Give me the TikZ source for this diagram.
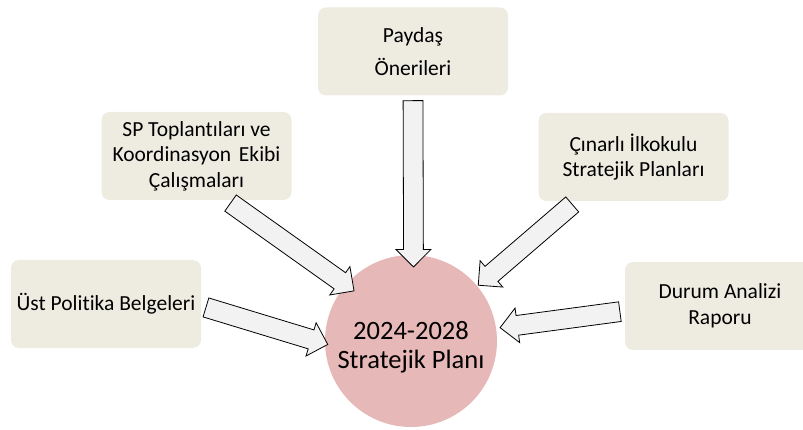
\documentclass[tikz,border=0pt]{standalone}
\usepackage{fontspec}
\setmainfont{Carlito}[Ligatures=NoCommon]
\usepackage{xcolor}
\usetikzlibrary{calc,shapes.arrows}

\definecolor{boxtan}{HTML}{EEECE1}
\definecolor{planpink}{HTML}{E6B8B7}
\definecolor{arrowgray}{HTML}{F2F2F2}

\tikzset{
  inputbox/.style={fill=boxtan, rounded corners=8pt, minimum width=190pt, minimum height=88pt,
    align=center, font=\fontsize{21.5}{25.5}\selectfont},
  fatarrow/.style={single arrow, draw=black, fill=arrowgray, line width=0.8pt,
    inner xsep=0pt, inner ysep=9.5pt, single arrow head extend=7.5pt, single arrow tip angle=90},
}

\newcommand{\blockarrow}[2]{%
  \path let \p1=($(#2)-(#1)$), \n1={atan2(\y1,\x1)}, \n2={veclen(\x1,\y1)} in
    node[fatarrow, minimum height=\n2, rotate=\n1] at ($(#1)!0.5!(#2)$) {};}

\begin{document}
\begin{tikzpicture}[x=1pt,y=-1pt]
    \useasboundingbox (0,0) rectangle (803,430);

    % the plan in the middle
    \node[circle, fill=planpink, minimum size=172pt, inner sep=0pt] (plan) at (411,341) {};
    \node[align=center, font=\fontsize{26.5}{28.5}\selectfont] (planLabel) at ($(plan.center)+(0,6)$)
      {2024-2028\\Stratejik Planı};

    % inputs
    \node[inputbox] (pay) at (413,51.5) {Paydaş\\[8pt]Önerileri};
    \node[inputbox] (sp) at (196.5,156) {SP Toplantıları ve\\Koordinasyon\hspace{3pt} Ekibi\\Çalışmaları};
    \node[inputbox] (cin) at (633.5,157) {Çınarlı İlkokulu\\Stratejik Planları};
    \node[inputbox] (ust) at (106,304) {Üst Politika Belgeleri};
    \node[inputbox] (dur) at (720,306) {Durum Analizi\\Raporu};

    % where the arrows start and stop
    \coordinate (payOut) at (pay.south);
    \coordinate (spOut) at ($(sp.south)+(30,0)$);
    \coordinate (cinOut) at ($(cin.south)+(-57.5,0)$);
    \coordinate (ustOut) at ($(ust.east)+(0,2)$);
    \coordinate (durOut) at ($(dur.west)+(0,5)$);
    \coordinate (payIn) at ($(plan.center)+(2.5,-79)$);
    \coordinate (spIn) at ($(plan.center)+(-61,-53)$);
    \coordinate (cinIn) at ($(plan.center)+(71,-59)$);
    \coordinate (ustIn) at ($(plan.center)+(-88,2)$);
    \coordinate (durIn) at ($(plan.center)+(94,-14)$);

    \blockarrow{payOut}{payIn}
    \blockarrow{spOut}{spIn}
    \blockarrow{cinOut}{cinIn}
    \blockarrow{ustOut}{ustIn}
    \blockarrow{durOut}{durIn}
\end{tikzpicture}
\end{document}
